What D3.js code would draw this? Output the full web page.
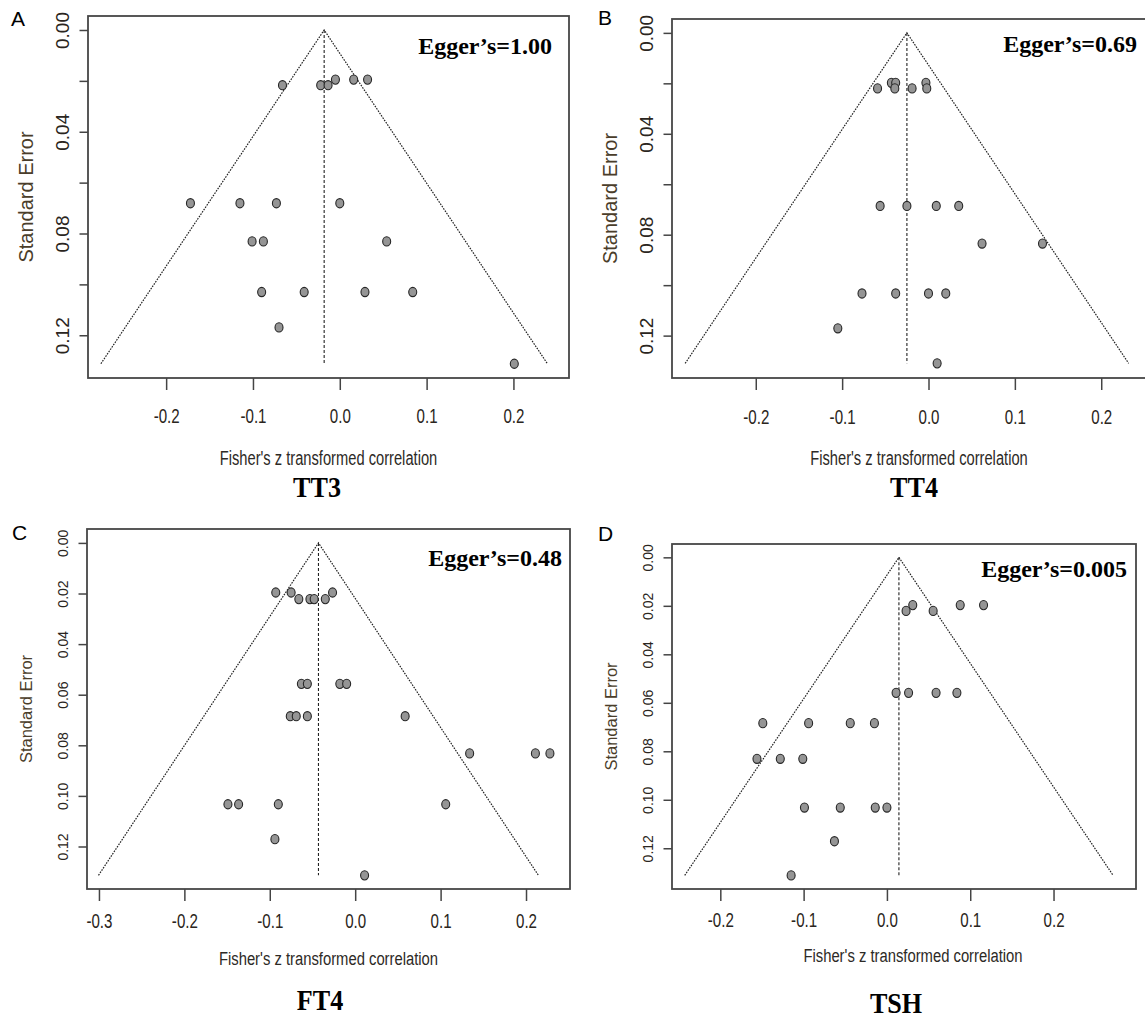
<!DOCTYPE html>
<html>
<head>
<meta charset="utf-8">
<script src="https://d3js.org/d3.v7.min.js"></script>
<title>Funnel plots</title>
<style>
  body { margin: 0; background: #fff; }
  svg { display: block; }
</style>
</head>
<body>
<div id="my_dataviz"></div>

<script>
// Fisher's z and standard error of each study
var tt3_z  = [-0.005, 0.016, 0.032, -0.066, -0.022, -0.0135, -0.172, -0.115, -0.073, 0.000,
              -0.101, -0.088, 0.054, -0.090, -0.041, 0.029, 0.084, -0.070, 0.201];
var tt3_se = [0.0195, 0.0195, 0.0195, 0.0217, 0.0217, 0.0217, 0.0681, 0.0681, 0.0681, 0.0681,
              0.0831, 0.0831, 0.0831, 0.1030, 0.1030, 0.1030, 0.1030, 0.1169, 0.1312];

var tt4_z  = [-0.043, -0.038, -0.003, -0.059, -0.039, -0.019, -0.002, -0.056, -0.025, 0.009,
              0.035, 0.062, 0.132, -0.077, -0.038, 0.000, 0.020, -0.105, 0.010];
var tt4_se = [0.0198, 0.0198, 0.0198, 0.0220, 0.0220, 0.0220, 0.0220, 0.0686, 0.0686, 0.0686,
              0.0686, 0.0835, 0.0835, 0.1033, 0.1033, 0.1033, 0.1033, 0.1171, 0.1310];

var ft4_z  = [-0.093, -0.075, -0.0265, -0.066, -0.053, -0.048, -0.035, -0.063, -0.056, -0.018,
              -0.010, -0.076, -0.069, -0.056, 0.0585, 0.134, 0.211, 0.228, -0.149, -0.1365,
              -0.090, 0.106, -0.094, 0.011];
var ft4_se = [0.0196, 0.0196, 0.0196, 0.0222, 0.0222, 0.0222, 0.0222, 0.0557, 0.0557, 0.0557,
              0.0557, 0.0685, 0.0685, 0.0685, 0.0685, 0.0832, 0.0832, 0.0832, 0.1033, 0.1033,
              0.1033, 0.1033, 0.1171, 0.1314];

var tsh_z  = [0.031, 0.088, 0.116, 0.023, 0.0555, 0.011, 0.026, 0.059, 0.084, -0.149,
              -0.094, -0.044, -0.015, -0.156, -0.128, -0.101, -0.099, -0.056, -0.014, 0.000,
              -0.063, -0.115];
var tsh_se = [0.0197, 0.0197, 0.0197, 0.0221, 0.0221, 0.0559, 0.0559, 0.0559, 0.0559, 0.0684,
              0.0684, 0.0684, 0.0684, 0.0831, 0.0831, 0.0831, 0.1032, 0.1032, 0.1032, 0.1032,
              0.1171, 0.1312];

// pooled estimates (dotted vertical line) and annotations
var pooled  = [-0.018, -0.025, -0.043, 0.0144];
var eggers  = ["Egger\u2019s=1.00", "Egger\u2019s=0.69", "Egger\u2019s=0.48", "Egger\u2019s=0.005"];
var hormones = ["TT3", "TT4", "FT4", "TSH"];
var letters = ["A", "B", "C", "D"];

// axis settings
var seTicks   = [0, 0.02, 0.04, 0.06, 0.08, 0.10, 0.12];
var seLabelsSparse = [0, 0.04, 0.08, 0.12];
var seLim = [-0.0055, 0.1368];
var xLims = [[-0.290, 0.264], [-0.297, 0.275], [-0.314, 0.2515], [-0.258, 0.299]];

// layout of each panel (pixels)
var panels = [
  {z: tt3_z, se: tt3_se, left: 88,  top: 16,  width: 481, height: 362, sparse: true,
   yTickFs: 19, yTitleFs: 20, xTickBase: 45, xTitleBase: 87, xTitleFs: 21, xTitleSx: 0.70, xTitleDx: 0,
   egg: [552, 54], letter: [11, 26], name: [317, 497]},
  {z: tt4_z, se: tt4_se, left: 672, top: 19,  width: 494, height: 359, sparse: true,
   yTickFs: 19, yTitleFs: 20, xTickBase: 46, xTitleBase: 87, xTitleFs: 21, xTitleSx: 0.70, xTitleDx: 0,
   egg: [1137, 52], letter: [598, 25], name: [914, 497]},
  {z: ft4_z, se: ft4_se, left: 87,  top: 529, width: 483, height: 360, sparse: false,
   yTickFs: 14, yTitleFs: 16.5, xTickBase: 39, xTitleBase: 76, xTitleFs: 19, xTitleSx: 0.78, xTitleDx: 0,
   egg: [562, 566], letter: [12, 540], name: [320, 1010]},
  {z: tsh_z, se: tsh_se, left: 672, top: 544, width: 464, height: 345, sparse: false,
   yTickFs: 14, yTitleFs: 16.5, xTickBase: 38, xTitleBase: 73, xTitleFs: 19, xTitleSx: 0.78, xTitleDx: 9,
   egg: [1127, 577], letter: [598, 541], name: [896, 1013]}
];

var sans = '"Liberation Sans", Arial, sans-serif';
var serif = '"Liberation Serif", "Times New Roman", serif';

var svg = d3.select("#my_dataviz")
  .append("svg")
    .attr("width", 1145)
    .attr("height", 1018);

panels.forEach(function(p, i) {
  var x = d3.scaleLinear().domain(xLims[i]).range([p.left, p.left + p.width]);
  var y = d3.scaleLinear().domain(seLim).range([p.top, p.top + p.height]);
  var g = svg.append("g");
  var maxSe = d3.max(p.se);
  var c = pooled[i];
  var bottom = p.top + p.height;

  // funnel (95% pseudo confidence region)
  g.append("path")
    .attr("d", d3.line()([[x(c - 1.96 * maxSe), y(maxSe)], [x(c), y(0)], [x(c + 1.96 * maxSe), y(maxSe)]]))
    .attr("fill", "none")
    .attr("stroke", "#222")
    .attr("stroke-width", 1.2)
    .attr("stroke-dasharray", "1.6,1.2");

  g.append("line")
    .attr("x1", x(c)).attr("x2", x(c))
    .attr("y1", y(0)).attr("y2", y(maxSe))
    .attr("stroke", "#222")
    .attr("stroke-width", 1.1)
    .attr("stroke-dasharray", "3,2");

  // studies
  g.selectAll("ellipse")
    .data(d3.zip(p.z, p.se))
    .enter()
    .append("ellipse")
      .attr("cx", function(d) { return x(d[0]); })
      .attr("cy", function(d) { return y(d[1]); })
      .attr("rx", 4)
      .attr("ry", 4.6)
      .attr("fill", "#959595")
      .attr("stroke", "#262626")
      .attr("stroke-width", 1.1);

  // x axis
  var gx = g.append("g")
    .attr("transform", "translate(0," + bottom + ")")
    .call(d3.axisBottom(x).ticks(6).tickSize(12).tickFormat(function(d) { return d.toFixed(1); }));
  gx.select(".domain").remove();
  gx.selectAll("line").attr("stroke", "#444").attr("stroke-width", 1.5);
  gx.selectAll("text")
    .attr("y", p.xTickBase)
    .attr("dy", 0)
    .attr("transform", "scale(0.72,1)")
    .attr("fill", "#2a2520")
    .style("font-family", sans)
    .style("font-size", "21px");

  // y axis (rotated labels, like R)
  var gy = g.append("g")
    .attr("transform", "translate(" + p.left + ",0)")
    .call(d3.axisLeft(y).tickValues(seTicks).tickSize(8.5)
      .tickFormat(function(d) {
        if (p.sparse && seLabelsSparse.indexOf(d) < 0) return "";
        return d.toFixed(2);
      }));
  gy.select(".domain").remove();
  gy.selectAll("line").attr("stroke", "#444").attr("stroke-width", 1.5);
  gy.selectAll("text")
    .attr("x", 0)
    .attr("y", -19)
    .attr("dy", 0)
    .attr("transform", "rotate(-90)")
    .attr("text-anchor", "middle")
    .attr("fill", "#2a2520")
    .style("font-family", sans)
    .style("font-size", p.yTickFs + "px");

  // box
  g.append("rect")
    .attr("x", p.left)
    .attr("y", p.top)
    .attr("width", p.width)
    .attr("height", p.height)
    .attr("fill", "none")
    .attr("stroke", "#464646")
    .attr("stroke-width", 1.8);

  // axis titles
  g.append("text")
    .attr("transform", "translate(" + (p.left + p.width / 2 + p.xTitleDx) + "," + (bottom + p.xTitleBase) + ") scale(" + p.xTitleSx + ",1)")
    .attr("text-anchor", "middle")
    .attr("fill", "#2d2a26")
    .style("font-family", sans)
    .style("font-size", p.xTitleFs + "px")
    .text("Fisher's z transformed correlation");

  g.append("text")
    .attr("transform", "translate(" + (p.left - 55) + "," + (p.top + p.height / 2) + ") rotate(-90)")
    .attr("text-anchor", "middle")
    .attr("fill", "#4a3d2a")
    .style("font-family", sans)
    .style("font-size", p.yTitleFs + "px")
    .text("Standard Error");

  // Egger's test annotation
  g.append("text")
    .attr("x", p.egg[0])
    .attr("y", p.egg[1])
    .attr("text-anchor", "end")
    .attr("fill", "#000")
    .style("font-family", serif)
    .style("font-weight", "bold")
    .style("font-size", "24px")
    .text(eggers[i]);

  // panel letter
  g.append("text")
    .attr("x", p.letter[0])
    .attr("y", p.letter[1])
    .attr("fill", "#000")
    .style("font-family", sans)
    .style("font-size", "21px")
    .text(letters[i]);

  // hormone name under the plot
  g.append("text")
    .attr("transform", "translate(" + p.name[0] + "," + p.name[1] + ") scale(0.9,1)")
    .attr("text-anchor", "middle")
    .attr("fill", "#000")
    .style("font-family", serif)
    .style("font-weight", "bold")
    .style("font-size", "29px")
    .text(hormones[i]);
});
</script>
</body>
</html>
